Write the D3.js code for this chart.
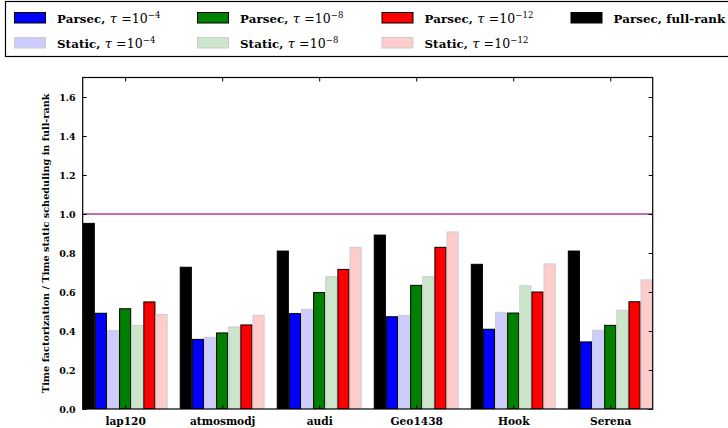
<!DOCTYPE html>
<html>
<head>
<meta charset="utf-8">
<script src="https://cdn.jsdelivr.net/npm/d3@7"></script>
<style>
  html, body { margin: 0; padding: 0; background: #fff; }
  svg { display: block; }
  text { font-family: "DejaVu Serif", serif; font-weight: bold; fill: #000; }
</style>
</head>
<body>
<svg id="chart" width="728" height="428"></svg>
<script>
// ---- data ----
const categories = ["lap120", "atmosmodj", "audi", "Geo1438", "Hook", "Serena"];
const fullRank   = [0.952, 0.727, 0.810, 0.892, 0.742, 0.810];
const parsec4    = [0.491, 0.357, 0.489, 0.473, 0.409, 0.344];
const static4    = [0.402, 0.368, 0.511, 0.480, 0.496, 0.404];
const parsec8    = [0.514, 0.390, 0.597, 0.634, 0.492, 0.429];
const static8    = [0.429, 0.421, 0.679, 0.679, 0.632, 0.506];
const parsec12   = [0.549, 0.431, 0.716, 0.829, 0.600, 0.550];
const static12   = [0.485, 0.481, 0.829, 0.908, 0.744, 0.662];
const yTicks     = [0.0, 0.2, 0.4, 0.6, 0.8, 1.0, 1.2, 1.4, 1.6];
const refLine    = 1.0;

const series = [
  { key: "full",  values: fullRank, fill: "#000000", stroke: "#000000", solver: "Parsec", label: "full-rank" },
  { key: "p4",    values: parsec4,  fill: "#0000ff", stroke: "#000000", solver: "Parsec", exp: "−4" },
  { key: "s4",    values: static4,  fill: "#ccccff", stroke: "#cccccc", solver: "Static", exp: "−4" },
  { key: "p8",    values: parsec8,  fill: "#008000", stroke: "#000000", solver: "Parsec", exp: "−8" },
  { key: "s8",    values: static8,  fill: "#cce6cc", stroke: "#cccccc", solver: "Static", exp: "−8" },
  { key: "p12",   values: parsec12, fill: "#ff0000", stroke: "#000000", solver: "Parsec", exp: "−12" },
  { key: "s12",   values: static12, fill: "#ffcccc", stroke: "#cccccc", solver: "Static", exp: "−12" }
];

const svg = d3.select("#chart");
const mLeft = 82.7, mRight = 652.7, mTop = 77.5, mBottom = 409;

const nBars = series.length;
const barUnit = 1 / 8;
const x = d3.scaleLinear().domain([0, categories.length - 1 + nBars * barUnit]).range([mLeft, mRight]);
const sub = d3.scaleBand().domain(series.map(s => s.key)).range([0, nBars * barUnit]).padding(0);
const y = d3.scaleLinear().domain([0, 1.7]).range([mBottom, mTop]);

svg.append("clipPath").attr("id", "plotclip")
  .append("rect").attr("x", mLeft).attr("y", mTop).attr("width", mRight - mLeft).attr("height", mBottom - mTop);

const plot = svg.append("g").attr("clip-path", "url(#plotclip)");

// bars
series.forEach(s => {
  plot.append("g").selectAll("rect").data(s.values).join("rect")
    .attr("x", (d, i) => x(i + sub(s.key)) + 0.5)
    .attr("y", d => y(d))
    .attr("width", x(sub.bandwidth()) - x(0) - 1)
    .attr("height", d => y(0) - y(d))
    .attr("fill", s.fill)
    .attr("stroke", s.stroke)
    .attr("stroke-width", 1);
});

// reference line
plot.append("line")
  .attr("x1", mLeft).attr("x2", mRight)
  .attr("y1", y(refLine)).attr("y2", y(refLine))
  .attr("stroke", "#a640a8").attr("stroke-width", 1.6);

// axes
const tickPos = categories.map((c, i) => i + sub("p8") + sub.bandwidth() / 2);
const yAxisL = d3.axisLeft(y).tickValues(yTicks).tickFormat(d3.format(".1f")).tickSizeInner(-4).tickSizeOuter(0).tickPadding(7);
const yAxisR = d3.axisRight(y).tickValues(yTicks).tickFormat("").tickSizeInner(-4).tickSizeOuter(0);
const xAxisB = d3.axisBottom(x).tickValues(tickPos).tickFormat((d, i) => categories[i]).tickSizeInner(-4).tickSizeOuter(0).tickPadding(8);
const xAxisT = d3.axisTop(x).tickValues(tickPos).tickFormat("").tickSizeInner(-4).tickSizeOuter(0);

function styleAxis(g, size) {
  g.select(".domain").remove();
  g.attr("font-family", null);
  g.selectAll(".tick line").attr("stroke", "#000").attr("stroke-width", 1);
  g.selectAll("text").style("font-family", "'DejaVu Serif', serif").style("font-weight", "bold").style("font-size", size + "px").attr("fill", "#000");
}
svg.append("g").attr("transform", `translate(${mLeft},0)`).call(yAxisL).call(styleAxis, 9.5);
svg.append("g").attr("transform", `translate(${mRight},0)`).call(yAxisR).call(styleAxis, 9.5);
svg.append("g").attr("transform", `translate(0,${mBottom})`).call(xAxisB).call(styleAxis, 10.6);
svg.append("g").attr("transform", `translate(0,${mTop})`).call(xAxisT).call(styleAxis, 10.6);

// frame
svg.append("rect").attr("x", mLeft).attr("y", mTop).attr("width", mRight - mLeft).attr("height", mBottom - mTop)
  .attr("fill", "none").attr("stroke", "#000").attr("stroke-width", 1.2);

// y label
svg.append("text")
  .attr("transform", `translate(48.5,${(mTop + mBottom) / 2}) rotate(-90)`)
  .attr("text-anchor", "middle")
  .style("font-size", "9.7px")
  .text("Time factorization / Time static scheduling in full-rank");

// legend
svg.append("rect").attr("x", 5.5).attr("y", 1.5).attr("width", 740).attr("height", 55)
  .attr("fill", "#fff").attr("stroke", "#000").attr("stroke-width", 1.2);

const legendOrder = [
  { s: "p4",  col: 0, row: 0 }, { s: "s4",  col: 0, row: 1 },
  { s: "p8",  col: 1, row: 0 }, { s: "s8",  col: 1, row: 1 },
  { s: "p12", col: 2, row: 0 }, { s: "s12", col: 2, row: 1 },
  { s: "full", col: 3, row: 0 }
];
const colX = [14.5, 197.5, 382, 571];
const rowY = [12.5, 37.5];
legendOrder.forEach(item => {
  const s = series.find(d => d.key === item.s);
  const g = svg.append("g").attr("transform", `translate(${colX[item.col]},${rowY[item.row]})`);
  g.append("rect").attr("x", 0).attr("y", 0).attr("width", 31).attr("height", 10.5)
    .attr("fill", s.fill).attr("stroke", s.stroke).attr("stroke-width", 1);
  const t = g.append("text").attr("x", 42.5).attr("y", 10).style("font-size", "11.8px").style("letter-spacing", "0.1px");
  if (s.label) {
    t.text(`${s.solver}, ${s.label}`);
  } else {
    t.append("tspan").text(`${s.solver}, `);
    t.append("tspan").style("font-style", "italic").style("font-weight", "normal").style("font-size", "13px").text("τ");
    t.append("tspan").style("font-weight", "normal").style("font-size", "12.5px").text(" =10");
    t.append("tspan").style("font-weight", "normal").style("font-size", "8.5px").attr("dy", -5).text(s.exp);
  }
});
</script>
</body>
</html>
